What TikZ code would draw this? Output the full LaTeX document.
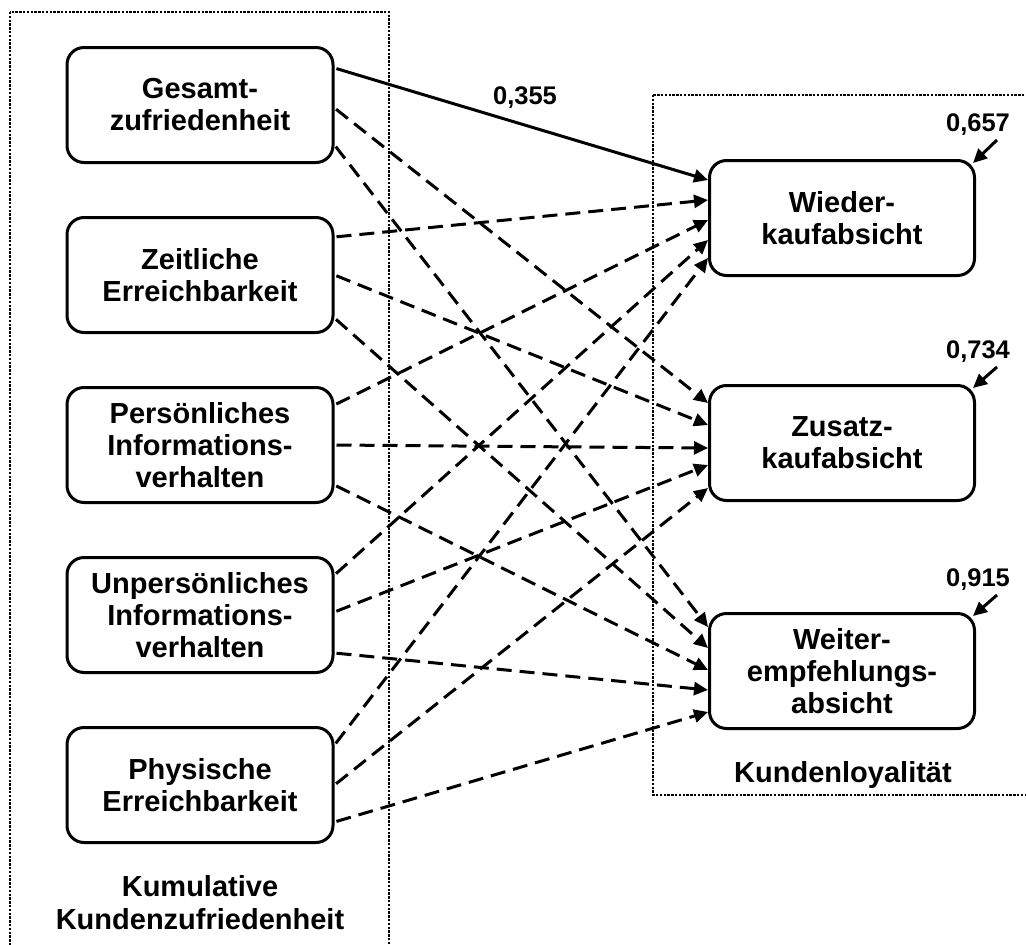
\documentclass[tikz,border=0pt]{standalone}
\usepackage{fontspec}
\setmainfont{Liberation Sans}
\usetikzlibrary{arrows.meta}
\begin{document}
\begin{tikzpicture}[x=1pt,y=-1pt,
  box/.style={draw, line width=3pt, rounded corners=17pt,
    minimum height=115pt, align=center, inner sep=2pt,
    font=\bfseries\fontsize{29}{32}\selectfont},
  srcbox/.style={box, minimum width=266pt},
  tgtbox/.style={box, minimum width=265pt},
  group/.style={line width=2.6pt, dash pattern=on 2.4pt off 1.4pt},
  link/.style={line width=3pt, -{Triangle[length=14pt,width=13pt]}, shorten <=2pt},
  dlink/.style={link, dash pattern=on 15pt off 8pt},
  caption/.style={font=\bfseries\fontsize{29}{33}\selectfont, align=center},
  coef/.style={font=\bfseries\fontsize{25.5}{30}\selectfont},
]
\useasboundingbox (0,0) rectangle (1026,945);

% construct groups
\draw[group] (10,12) rectangle (389,965);
\draw[group] (653,95) rectangle (1045,795);
\node[caption] (kz) at (200,903) {Kumulative\\Kundenzufriedenheit};
\node[caption] (kl) at (843,775) {Kundenloyalität};

% antecedents
\node[srcbox] (g) at (200,105) {Gesamt-\\zufriedenheit};
\node[srcbox] (t) at (200,275) {Zeitliche\\Erreichbarkeit};
\node[srcbox] (p) at (200,445) {Persönliches\\Informations-\\verhalten};
\node[srcbox] (u) at (200,615) {Unpersönliches\\Informations-\\verhalten};
\node[srcbox] (e) at (200,785) {Physische\\Erreichbarkeit};

% loyalty dimensions
\node[tgtbox] (w) at (842,218) {Wieder-\\kaufabsicht};
\node[tgtbox] (z) at (842,443) {Zusatz-\\kaufabsicht};
\node[tgtbox] (f) at (842,671) {Weiter-\\empfehlungs-\\absicht};

% paths
\draw[link]  ([yshift=37pt]g.east) -- ([yshift=38pt]w.west);
\draw[dlink] ([yshift=-3pt]g.east) -- ([yshift=40pt]z.west);
\draw[dlink] ([yshift=-40pt]g.east) -- ([yshift=44pt]f.west);

\draw[dlink] ([yshift=38pt]t.east) -- ([yshift=18pt]w.west);
\draw[dlink] ([yshift=0pt]t.east) -- ([yshift=18pt]z.west);
\draw[dlink] ([yshift=-43pt]t.east) -- ([yshift=23pt]f.west);

\draw[dlink] ([yshift=40pt]p.east) -- ([yshift=-2pt]w.west);
\draw[dlink] ([yshift=0pt]p.east) -- ([yshift=-5pt]z.west);
\draw[dlink] ([yshift=-40pt]p.east) -- ([yshift=1pt]f.west);

\draw[dlink] ([yshift=40pt]u.east) -- ([yshift=-22pt]w.west);
\draw[dlink] ([yshift=3pt]u.east) -- ([yshift=-22pt]z.west);
\draw[dlink] ([yshift=-38pt]u.east) -- ([yshift=-19pt]f.west);

\draw[dlink] ([yshift=40pt]e.east) -- ([yshift=-40pt]w.west);
\draw[dlink] ([yshift=0pt]e.east) -- ([yshift=-45pt]z.west);
\draw[dlink] ([yshift=-37pt]e.east) -- ([yshift=-41pt]f.west);

\node[coef] (c0) at (525,98) {0,355};

% explained variance
\node[coef] (rw) at (978,125) {0,657};
\node[coef] (rz) at (978,352) {0,734};
\node[coef] (rf) at (978,580) {0,915};
\coordinate (sw) at (997,140);
\coordinate (sz) at (997,367);
\coordinate (sf) at (997,595);
\draw[link, shorten <=0pt] (sw) -- ([shift={(-3,4)}]w.north east);
\draw[link, shorten <=0pt] (sz) -- ([shift={(-3,4)}]z.north east);
\draw[link, shorten <=0pt] (sf) -- ([shift={(-3,4)}]f.north east);
\end{tikzpicture}
\end{document}
